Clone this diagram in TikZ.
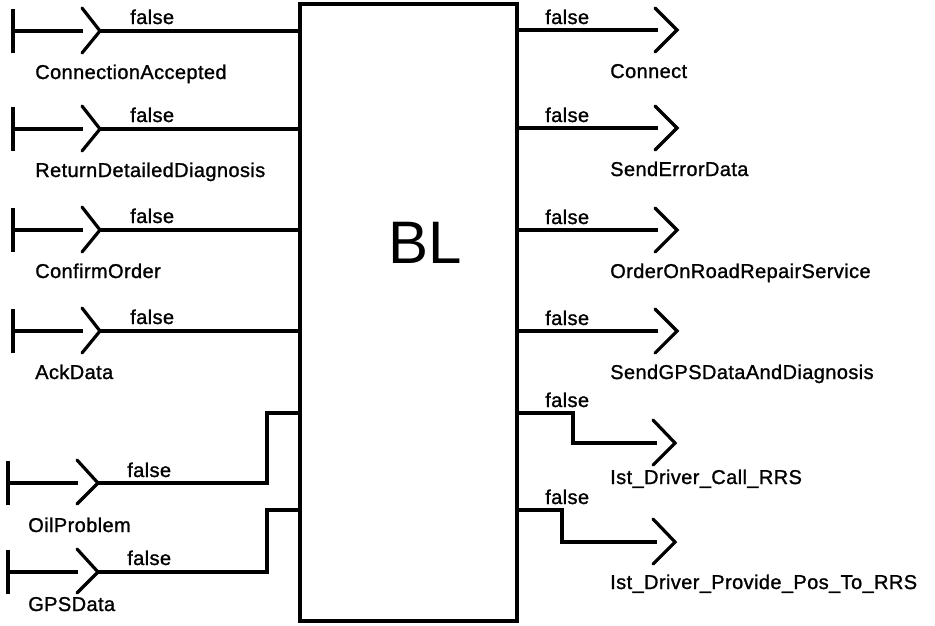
\documentclass[tikz,border=0pt]{standalone}
\usepackage{fontspec}
\setmainfont{Liberation Sans}
\newfontfamily\lblfont[FakeBold=1.2,LetterSpace=2]{Liberation Sans}
\begin{document}
\begin{tikzpicture}[x=0.75pt,y=-0.75pt,
  wire/.style={line width=2.4pt, line join=miter},
  chev/.style={line width=2.4pt, line join=miter, line cap=round},
  lbl/.style={inner sep=0pt, anchor=base west, font=\lblfont\fontsize{15}{18}\selectfont},
  blbox/.style={draw, line width=2.3pt, minimum width=162.75pt, minimum height=462.75pt, inner sep=0pt}]
\useasboundingbox (0,0) rectangle (935,625);
% central block
\node[blbox] (bl) at (408.5,312.5) {};
\node[inner sep=0pt, anchor=base, font=\fontsize{45}{54}\selectfont] (bltext) at (425,263) {BL};
% straight inputs
\foreach \y/\t/\n in {31/ConnectionAccepted/a, 129/ReturnDetailedDiagnosis/b, 230/ConfirmOrder/c, 331/AckData/d} {
  \coordinate (\n0) at (13,\y);
  \coordinate (\n1) at (83,\y);
  \coordinate (\n2) at (100,\y);
  \draw[wire] (13,\y-22) -- (13,\y+22);
  \draw[wire] (\n0) -- (\n1);
  \draw[chev] (82,\y-23) -- (\n2) -- (82,\y+22);
  \draw[wire] (\n2) -- (bl.west |- \n2);
  \node[lbl] (f\n) at (130,\y-7) {false};
  \node[lbl] (t\n) at (35,\y+48) {\t};
}
% bent inputs
\foreach \y/\u/\t/\n/\fy/\ty in {483/413/OilProblem/e/477/532, 572/510/GPSData/g/565/611} {
  \coordinate (\n0) at (8,\y);
  \coordinate (\n1) at (78,\y);
  \coordinate (\n2) at (98,\y);
  \coordinate (\n3) at (267,\y);
  \coordinate (\n4) at (267,\u);
  \draw[wire] (8,\y-22) -- (8,\y+22);
  \draw[wire] (\n0) -- (\n1);
  \draw[chev] (77,\y-23) -- (\n2) -- (77,\y+21);
  \draw[wire] (\n2) -- (\n3) -- (\n4) -- (bl.west |- \n4);
  \node[lbl] (f\n) at (127,\fy) {false};
  \node[lbl] (t\n) at (28,\ty) {\t};
}
% straight outputs
\foreach \y/\t/\n in {30/Connect/o, 128/SendErrorData/p, 230/OrderOnRoadRepairService/q, 331/SendGPSDataAndDiagnosis/r} {
  \coordinate (\n1) at (658,\y);
  \coordinate (\n2) at (677,\y);
  \draw[wire] (bl.east |- \n1) -- (\n1);
  \draw[chev] (655,\y-22) -- (\n2) -- (655,\y+22);
  \node[lbl] (f\n) at (545,\y-6) {false};
  \node[lbl] (t\n) at (610,\y+48) {\t};
}
% bent outputs
\foreach \y/\d/\x/\t/\n/\fy/\ty in {413/443/573/Ist\_Driver\_Call\_RRS/s/407/484, 510/542/562/Ist\_Driver\_Provide\_Pos\_To\_RRS/u/504/589} {
  \coordinate (\n0) at (\x,\y);
  \coordinate (\n1) at (\x,\d);
  \coordinate (\n2) at (657,\d);
  \coordinate (\n3) at (675,\d);
  \draw[wire] (bl.east |- \n0) -- (\n0) -- (\n1) -- (\n2);
  \draw[chev] (653,\d-23) -- (\n3) -- (653,\d+22);
  \node[lbl] (f\n) at (545,\fy) {false};
  \node[lbl] (t\n) at (610,\ty) {\t};
}
\end{tikzpicture}
\end{document}
